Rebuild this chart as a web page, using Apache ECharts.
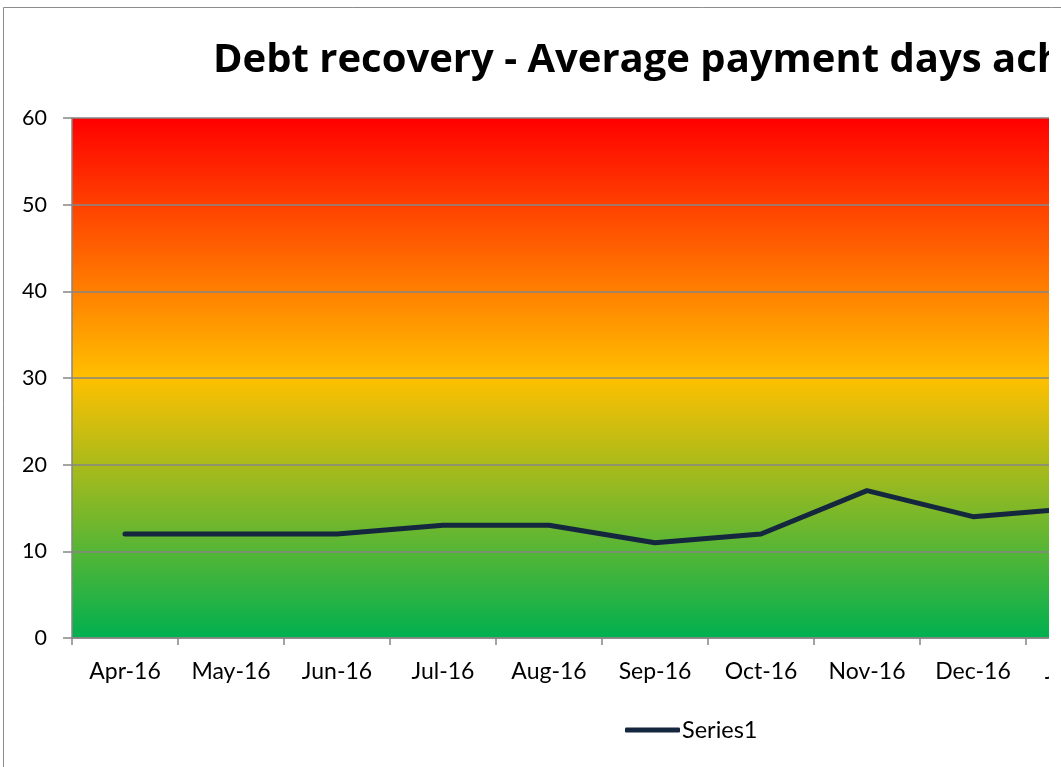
<!DOCTYPE html>
<html>
<head>
<meta charset="utf-8">
<script src="https://cdn.jsdelivr.net/npm/echarts@6/dist/echarts.min.js"></script>
<style>
html,body{margin:0;padding:0;background:#fff;overflow:hidden;width:1061px;height:767px;}
#chart{position:absolute;left:0;top:0;width:1400px;height:800px;}
</style>
</head>
<body>
<div id="chart"></div>
<script>
var titleText = 'Debt recovery - Average payment days achieved';
var categories = ['Apr-16','May-16','Jun-16','Jul-16','Aug-16','Sep-16','Oct-16','Nov-16','Dec-16','Jan-17','Feb-17','Mar-17'];
var series1 = [12, 12, 12, 13, 13, 11, 12, 17, 14, 15, null, null];
var seriesName = 'Series1';
var yTicks = {min: 0, max: 60, interval: 10};

var FONT = 'Lato';
var chart = echarts.init(document.getElementById('chart'), null, {renderer: 'canvas'});
chart.setOption({
  animation: false,
  backgroundColor: '#fff',
  title: {
    text: titleText,
    left: 213, top: 41, padding: 0,
    textStyle: {fontFamily: 'Open Sans', fontWeight: 'bold', fontSize: 40, color: '#000'}
  },
  grid: {
    left: 72, top: 118, width: 1272, height: 520,
    show: true, borderWidth: 0,
    backgroundColor: new echarts.graphic.LinearGradient(0, 0, 0, 1, [
      {offset: 0, color: '#FF0000'},
      {offset: 0.5, color: '#FFC000'},
      {offset: 1, color: '#00B050'}
    ])
  },
  legend: {
    data: [{name: seriesName, icon: 'roundRect'}],
    left: 625, top: 718, padding: 0,
    itemWidth: 55, itemHeight: 5,
    textStyle: {fontFamily: FONT, fontSize: 23.5, color: '#000', padding: [0,0,0,-3]}
  },
  xAxis: {
    type: 'category',
    data: categories,
    boundaryGap: true,
    axisLine: {lineStyle: {color: '#868686', width: 1.5}},
    axisTick: {show: true, length: 7, lineStyle: {color: '#868686', width: 1.5}},
    axisLabel: {fontFamily: FONT, fontSize: 23, color: '#000', margin: 22, interval: 0},
    splitLine: {show: false}
  },
  yAxis: {
    type: 'value',
    min: yTicks.min, max: yTicks.max, interval: yTicks.interval,
    axisLine: {show: true, lineStyle: {color: '#868686', width: 1.5}},
    axisTick: {show: true, length: 9, lineStyle: {color: '#868686', width: 1.5}},
    axisLabel: {fontFamily: FONT, fontSize: 21.5, color: '#000', margin: 25},
    splitLine: {show: true, lineStyle: {color: '#868686', width: 1.5}}
  },
  series: [{
    name: seriesName,
    type: 'line',
    data: series1,
    symbol: 'none',
    connectNulls: false,
    lineStyle: {color: '#15273F', width: 5, cap: 'round', join: 'round'},
    itemStyle: {color: '#15273F'}
  }],
  graphic: [
    {type: 'rect', z: 100, shape: {x: 1049, y: 0, width: 400, height: 800}, style: {fill: '#fff'}},
    {type: 'rect', z: 101, shape: {x: 3.5, y: 7.5, width: 1500, height: 900}, style: {fill: 'none', stroke: '#8c8c8c', lineWidth: 1}}
  ]
});
</script>
</body>
</html>
